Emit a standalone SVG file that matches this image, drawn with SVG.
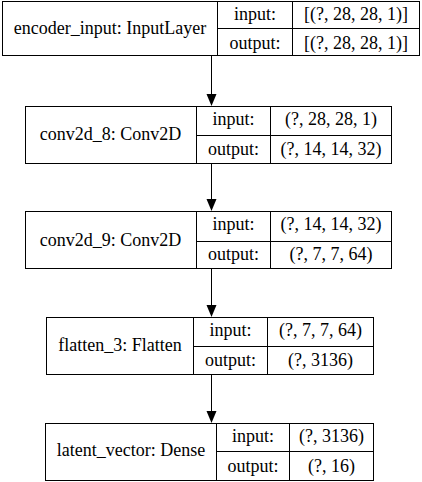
<svg xmlns="http://www.w3.org/2000/svg" width="422" height="482" viewBox="0 0 422 482">
<style>
rect{fill:#fff;stroke:#000;stroke-width:1}
line.d{stroke:#000;stroke-width:1}
text{font-family:"Liberation Serif","Times New Roman",serif;font-size:18px;fill:#000;text-anchor:middle}
.c{stroke:#000;stroke-width:1;fill:none}
.h{fill:#000;stroke:none}
</style>
<g id="connectors">
<line class="c" x1="211.5" y1="56" x2="211.5" y2="95"/>
<polygon class="h" points="206.5,94 216.5,94 211.5,106"/>
<line class="c" x1="211.5" y1="164" x2="211.5" y2="200"/>
<polygon class="h" points="206.5,199 216.5,199 211.5,211"/>
<line class="c" x1="211.5" y1="269" x2="211.5" y2="306"/>
<polygon class="h" points="206.5,305 216.5,305 211.5,317"/>
<line class="c" x1="211.5" y1="375" x2="211.5" y2="412"/>
<polygon class="h" points="206.5,411 216.5,411 211.5,423"/>
</g>
<g id="encoder_input">
<rect x="2.5" y="1.5" width="417" height="54"/>
<line class="d" x1="217.5" y1="1.5" x2="217.5" y2="55.5"/>
<line class="d" x1="292.5" y1="1.5" x2="292.5" y2="55.5"/>
<line class="d" x1="217.5" y1="28.5" x2="419.5" y2="28.5"/>
<text x="110" y="34">encoder_input: InputLayer</text>
<text x="255" y="20">input:</text>
<text x="356" y="20">[(?, 28, 28, 1)]</text>
<text x="255" y="49">output:</text>
<text x="356" y="49">[(?, 28, 28, 1)]</text>
</g>
<g id="conv2d_8">
<rect x="25.5" y="106.5" width="366" height="57"/>
<line class="d" x1="196.5" y1="106.5" x2="196.5" y2="163.5"/>
<line class="d" x1="270.5" y1="106.5" x2="270.5" y2="163.5"/>
<line class="d" x1="196.5" y1="135.5" x2="391.5" y2="135.5"/>
<text x="110.5" y="140">conv2d_8: Conv2D</text>
<text x="233.5" y="125">input:</text>
<text x="331" y="125">(?, 28, 28, 1)</text>
<text x="233.5" y="155">output:</text>
<text x="331" y="155">(?, 14, 14, 32)</text>
</g>
<g id="conv2d_9">
<rect x="25.5" y="211.5" width="366" height="57"/>
<line class="d" x1="196.5" y1="211.5" x2="196.5" y2="268.5"/>
<line class="d" x1="270.5" y1="211.5" x2="270.5" y2="268.5"/>
<line class="d" x1="196.5" y1="241.5" x2="391.5" y2="241.5"/>
<text x="110.5" y="246">conv2d_9: Conv2D</text>
<text x="233.5" y="230">input:</text>
<text x="331" y="230">(?, 14, 14, 32)</text>
<text x="233.5" y="260">output:</text>
<text x="331" y="260">(?, 7, 7, 64)</text>
</g>
<g id="flatten_3">
<rect x="46.5" y="317.5" width="327" height="57"/>
<line class="d" x1="193.5" y1="317.5" x2="193.5" y2="374.5"/>
<line class="d" x1="267.5" y1="317.5" x2="267.5" y2="374.5"/>
<line class="d" x1="193.5" y1="346.5" x2="373.5" y2="346.5"/>
<text x="120" y="351">flatten_3: Flatten</text>
<text x="230.5" y="336">input:</text>
<text x="320.5" y="336">(?, 7, 7, 64)</text>
<text x="230.5" y="366">output:</text>
<text x="320.5" y="366">(?, 3136)</text>
</g>
<g id="latent_vector">
<rect x="45.5" y="423.5" width="328" height="57"/>
<line class="d" x1="216.5" y1="423.5" x2="216.5" y2="480.5"/>
<line class="d" x1="289.5" y1="423.5" x2="289.5" y2="480.5"/>
<line class="d" x1="216.5" y1="451.5" x2="373.5" y2="451.5"/>
<text x="131" y="456">latent_vector: Dense</text>
<text x="253" y="442">input:</text>
<text x="331.5" y="442">(?, 3136)</text>
<text x="253" y="472">output:</text>
<text x="331.5" y="472">(?, 16)</text>
</g>
</svg>
